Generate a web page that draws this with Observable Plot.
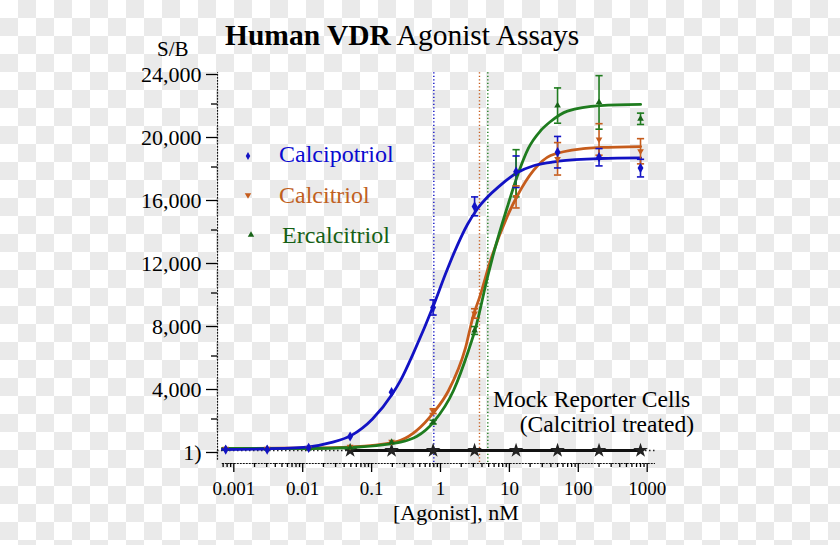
<!DOCTYPE html>
<html>
<head>
<meta charset="utf-8">
<script src="https://cdn.jsdelivr.net/npm/d3@7"></script>
<script src="https://cdn.jsdelivr.net/npm/@observablehq/plot@0.6"></script>
<style>
  html, body { margin: 0; padding: 0; }
  body {
    width: 840px; height: 545px; overflow: hidden;
    background: repeating-conic-gradient(#eaeaea 0 25%, #ffffff 0 50%) 0 0 / 36px 36px;
    font-family: "Liberation Serif", "Times New Roman", serif;
  }
  #chart { position: relative; width: 840px; height: 545px; }
</style>
</head>
<body>
<div id="chart"></div>
<script>
// ---------- data ----------
const conc = [0.000763, 0.00305, 0.0122, 0.0488, 0.195, 0.781, 3.125, 12.5, 50, 200, 800];

const calcipotriolVals = [63, 63, 170, 890, 3700, 9080, 15500, 17700, 18940, 18620, 17930];
const calcipotriolErr  = [0, 0, 0, 0, 0, 480, 600, 1000, 1000, 550, 560];

const calcitriolVals = [110, 110, 130, 250, 560, 2500, 8700, 16100, 18520, 19750, 19000];
const calcitriolErr  = [0, 0, 0, 0, 0, 150, 300, 700, 1030, 1000, 800];

const ercalcitriolVals = [100, 100, 130, 190, 527, 1800, 7620, 17600, 21900, 22100, 21060];
const ercalcitriolErr  = [0, 0, 0, 0, 0, 120, 250, 1500, 1120, 1700, 360];

const mockConc = [0.0488, 0.195, 0.781, 3.125, 12.5, 50, 200, 800];
const mockVals = [1, 1, 1, 1, 1, 1, 1, 1];

// fitted curves
const calcipotriolCurveX = [0.000685, 0.0032, 0.013, 0.0254, 0.051, 0.103, 0.201, 0.263, 0.406, 0.792, 1.18, 1.54, 2.46, 3.44, 7.44, 13.1, 22.4, 39.6, 51.5, 210, 803];
const calcipotriolCurveY = [65, 110, 250, 500, 960, 2000, 3600, 4450, 6200, 9200, 11200, 12450, 14350, 15350, 16850, 17650, 18080, 18300, 18380, 18540, 18580];

const calcitriolCurveX = [0.000685, 0.013, 0.051, 0.201, 0.263, 0.792, 1.31, 2.30, 3.01, 3.68, 5.31, 9.38, 13.1, 22.4, 39.6, 118, 210, 803];
const calcitriolCurveY = [127, 159, 230, 508, 640, 2400, 3810, 6500, 8600, 9710, 12050, 14900, 16190, 17780, 18730, 19170, 19240, 19300];

const ercalcitriolCurveX = [0.000685, 0.013, 0.051, 0.201, 0.263, 0.792, 1.545, 2.55, 3.22, 4.81, 5.68, 9.38, 13.1, 18.9, 28.3, 39.6, 69.7, 210, 803];
const ercalcitriolCurveY = [127, 127, 190, 444, 527, 1800, 3810, 6350, 7750, 11000, 12250, 15490, 17460, 19200, 20300, 20890, 21550, 21900, 21970];

const ec50 = [0.80, 3.68, 4.86];

const seriesNames = ["Calcipotriol", "Calcitriol", "Ercalcitriol"];
const seriesColors = ["#1212c4", "#c65c1c", "#1f7c1f"];
const seriesTextColors = ["#0a0ad0", "#c0601e", "#156015"];

const yMajor = [1, 4000, 8000, 12000, 16000, 20000, 24000];
const yMajorLabels = ["1)", "4,000", "8,000", "12,000", "16,000", "20,000", "24,000"];
const yMinor = [2000, 6000, 10000, 14000, 18000, 22000];

const xMajor = [0.001, 0.01, 0.1, 1, 10, 100, 1000];
const xMajorLabels = ["0.001", "0.01", "0.1", "1", "10", "100", "1000"];
const minorMult = [2, 3, 4, 5, 6, 7, 8, 9];
const minorDecades = [0.0001, 0.001, 0.01, 0.1, 1, 10, 100];

// ---------- build tables ----------
const xMinor = [];
for (const d of minorDecades) for (const m of minorMult) {
  const v = +(d * m).toPrecision(3);
  if (v >= 0.0007 && v < 1000) xMinor.push(v);
}

const valsAll = [calcipotriolVals, calcitriolVals, ercalcitriolVals];
const errAll = [calcipotriolErr, calcitriolErr, ercalcitriolErr];
const curveXAll = [calcipotriolCurveX, calcitriolCurveX, ercalcitriolCurveX];
const curveYAll = [calcipotriolCurveY, calcitriolCurveY, ercalcitriolCurveY];

const points = [], errs = [], caps = [], curves = [];
seriesNames.forEach((s, k) => {
  conc.forEach((c, i) => {
    points.push({s, c, v: valsAll[k][i]});
    const e = errAll[k][i];
    if (e > 0) {
      errs.push({s, c, lo: valsAll[k][i] - e, hi: valsAll[k][i] + e});
      caps.push({s, c, y: valsAll[k][i] - e});
      caps.push({s, c, y: valsAll[k][i] + e});
    }
  });
  curveXAll[k].forEach((c, i) => curves.push({s, c, v: curveYAll[k][i]}));
});
const mock = mockConc.map((c, i) => ({c, v: mockVals[i]}));
const ecLines = ec50.map((c, i) => ({c, s: seriesNames[i]}));

const colorOf = s => seriesColors[seriesNames.indexOf(s)];
const xLabelMap = new Map(xMajor.map((d, i) => [d, xMajorLabels[i]]));
const yLabelMap = new Map(yMajor.map((d, i) => [d, yMajorLabels[i]]));

const capSymbol = {
  draw(ctx, size) {
    const r = Math.sqrt(size / Math.PI);
    ctx.moveTo(-r, 0); ctx.lineTo(r, 0);
  }
};

const xDomain = [0.00058, 1320];
const yDomain = [-825, 24000];

const font = "Liberation Serif";

const plot = Plot.plot({
  width: 840,
  height: 545,
  marginLeft: 217,
  marginRight: 185,
  marginTop: 72,
  marginBottom: 82,
  style: {background: "transparent", color: "black", fontFamily: font},
  x: {type: "log", domain: xDomain, axis: null, label: null},
  y: {domain: yDomain, axis: null, label: null},
  marks: [
    // axis lines
    Plot.ruleX([xDomain[0]], {y1: yDomain[0] + 200, y2: 24000, stroke: "#111", strokeWidth: 1.2, strokeDasharray: "2,1"}),
    Plot.ruleY([yDomain[0]], {x1: 0.00068, x2: xDomain[1], stroke: "#111", strokeWidth: 1.2, strokeDasharray: "2,1"}),
    Plot.axisY(yMajor, {label: null, tickSize: 11, tickPadding: 5, tickFormat: d => yLabelMap.get(d), fontSize: 22, fontFamily: font, dy: 2, strokeWidth: 1.3}),
    Plot.axisY(yMinor, {label: null, tickSize: 6, tickFormat: () => "", strokeWidth: 1.3}),
    Plot.axisX(xMajor, {label: null, tickSize: 9, tickPadding: 9, tickFormat: d => xLabelMap.get(d), fontSize: 19, fontFamily: font, strokeWidth: 1.3}),
    Plot.axisX(xMinor, {label: null, tickSize: 4, tickFormat: () => "", strokeWidth: 1.3}),
    // baseline at 1
    Plot.ruleY([1], {x1: xDomain[0], x2: xDomain[1], stroke: "#222", strokeWidth: 1.3, strokeDasharray: "1.5,2.5"}),
    // EC50 lines
    Plot.ruleX(ecLines, {x: "c", y1: yDomain[0] + 60, y2: 24000, stroke: d => colorOf(d.s), strokeWidth: 1.4, strokeDasharray: "1.3,2.2"}),
    // mock reporter
    Plot.line(mock, {x: "c", y: "v", stroke: "#111", strokeWidth: 2.8}),
    Plot.dot(mock, {x: "c", y: "v", symbol: "star", r: 4.6, fill: "#222"}),
    // fitted curves
    Plot.line(curves.filter(d => d.s !== "Calcipotriol"), {x: "c", y: "v", z: "s", stroke: d => colorOf(d.s), strokeWidth: 2.8, curve: "monotone-x"}),
    Plot.line(curves.filter(d => d.s === "Calcipotriol"), {x: "c", y: "v", stroke: colorOf("Calcipotriol"), strokeWidth: 2.8, curve: "monotone-x"}),
    // error bars
    Plot.ruleX(errs, {x: "c", y1: "lo", y2: "hi", stroke: d => colorOf(d.s), strokeWidth: 1.6}),
    Plot.dot(caps, {x: "c", y: "y", symbol: capSymbol, r: 3.6, stroke: d => colorOf(d.s), fill: "none", strokeWidth: 1.6}),
    // points
    Plot.dot(points.filter(d => d.s === "Calcitriol"), {x: "c", y: "v", symbol: "triangle2", rotate: 180, r: 3.2, fill: colorOf("Calcitriol")}),
    Plot.dot(points.filter(d => d.s === "Ercalcitriol"), {x: "c", y: "v", symbol: "triangle2", r: 3.2, fill: "#186418"}),
    Plot.dot(points.filter(d => d.s === "Calcipotriol"), {x: "c", y: "v", symbol: "diamond", r: 3.1, fill: colorOf("Calcipotriol")})
  ]
});

document.getElementById("chart").appendChild(plot);

// ---------- annotations ----------
const svg = d3.select(plot);
const g = svg.append("g").attr("font-family", font).attr("text-anchor", "start");

const title = g.append("text").attr("x", 225).attr("y", 45).attr("font-size", 29.5).attr("fill", "black");
title.append("tspan").attr("font-weight", "bold").text("Human VDR");
title.append("tspan").text(" Agonist Assays");

g.append("text").attr("x", 157).attr("y", 56).attr("font-size", 21).attr("fill", "black").text("S/B");

const legendY = [162, 203, 243];
const legendTextX = [279, 279, 282];
const legendMarkX = [248, 248, 251];
const legendMarkY = [156, 195, 235];
const legendSymbols = [d3.symbolDiamond, d3.symbolTriangle, d3.symbolTriangle];
const legendRot = [0, 180, 0];
seriesNames.forEach((s, k) => {
  g.append("path")
    .attr("d", d3.symbol(legendSymbols[k], 18)())
    .attr("transform", `translate(${legendMarkX[k]},${legendMarkY[k]}) rotate(${legendRot[k]})`)
    .attr("fill", k === 2 ? "#186418" : seriesColors[k]);
  g.append("text").attr("x", legendTextX[k]).attr("y", legendY[k]).attr("font-size", 24)
    .attr("fill", seriesTextColors[k]).text(s);
});

g.append("text").attr("x", 493).attr("y", 407).attr("font-size", 23.5).attr("fill", "black").text("Mock Reporter Cells");
g.append("text").attr("x", 694).attr("y", 432).attr("text-anchor", "end").attr("font-size", 23.5).attr("fill", "black").text("(Calcitriol treated)");
g.append("text").attr("x", 456).attr("y", 520).attr("text-anchor", "middle").attr("font-size", 22).attr("fill", "black").text("[Agonist], nM");
</script>
</body>
</html>
